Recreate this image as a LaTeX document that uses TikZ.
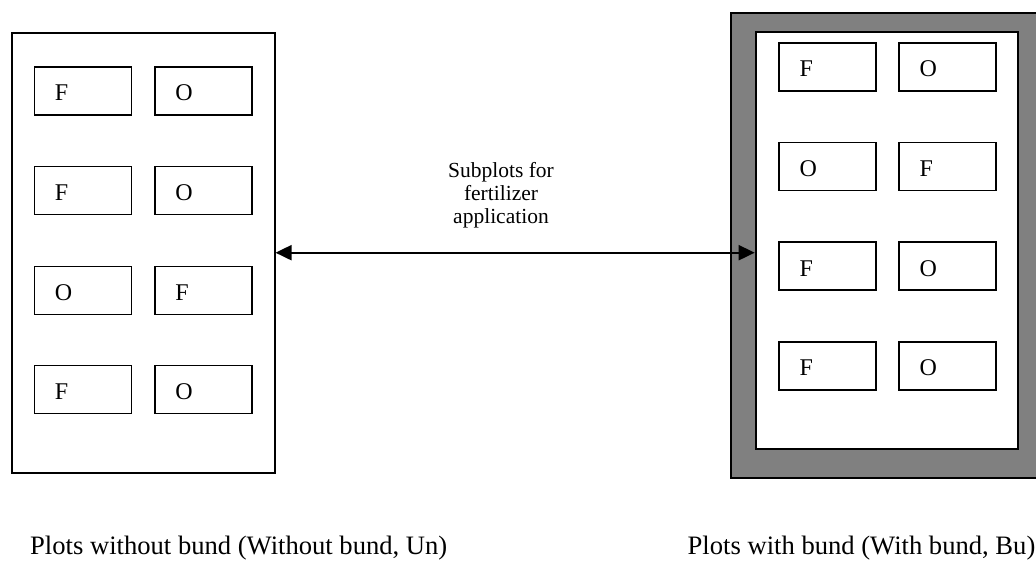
\documentclass[tikz,border=0pt]{standalone}
\usepackage{fontspec}
\setmainfont{Liberation Serif}
\usetikzlibrary{arrows.meta}
\definecolor{bundgray}{HTML}{808080}
\begin{document}
\begin{tikzpicture}[x=1pt,y=-1pt,
  plotbox/.style={draw, line width=2pt, anchor=north west, inner sep=0pt},
  subbox/.style={draw, line width=1.8pt, anchor=north west, minimum height=48pt,
    inner xsep=20.5pt, inner ysep=0pt, text width=56pt, align=left,
    text height=20pt, text depth=0pt, font=\fontsize{24}{28}\selectfont},
  arr/.style={line width=2pt, {Triangle[length=16pt,width=15pt]}-{Triangle[length=16pt,width=15pt]}},
  caption/.style={anchor=base west, inner sep=0pt, font=\fontsize{26.6}{30}\selectfont}
]
\useasboundingbox (0,0) rectangle (1036,562);
\clip (0,0) rectangle (1036,562);
\fill[white] (0,0) rectangle (1036,562);

% left plot (without bund)
\node[plotbox, minimum width=263pt, minimum height=440pt] (L) at (10.5,31.5) {};
\node[subbox] (l11) at (33.5,66)  {F};
\node[subbox] (l12) at (154,66)   {O};
\node[subbox] (l21) at (33.5,165.5) {F};
\node[subbox] (l22) at (154,165.5)  {O};
\node[subbox] (l31) at (33.5,265.5) {O};
\node[subbox] (l32) at (154,265.5)  {F};
\node[subbox] (l41) at (33.5,364.5) {F};
\node[subbox] (l42) at (154,364.5)  {O};

% right plot (with bund)
\node[plotbox, fill=bundgray, minimum width=330pt, minimum height=465pt] (RO) at (730.3,11.7) {};
\node[plotbox, fill=white, minimum width=262.5pt, minimum height=416.5pt] (RI) at (754.7,31) {};
\node[subbox] (r11) at (778.2,41.8)  {F};
\node[subbox] (r12) at (898.2,41.8)  {O};
\node[subbox] (r21) at (778.2,141.5) {O};
\node[subbox] (r22) at (898.2,141.5) {F};
\node[subbox] (r31) at (778.2,241.2) {F};
\node[subbox] (r32) at (898.2,241.2) {O};
\node[subbox] (r41) at (778.2,340.8) {F};
\node[subbox] (r42) at (898.2,340.8) {O};

% connector
\coordinate (ay) at (0,252.7);
\draw[arr] (L.east |- ay) -- (RI.west |- ay);
\node[anchor=north, inner sep=0pt, align=center, font=\fontsize{21.5}{23}\selectfont] (T) at (501,162.3)
  {Subplots for\\fertilizer\\application};

% captions
\node[caption] (CL) at (30,554.5) {Plots without bund (Without bund, Un)};
\node[caption] (CR) at (687.5,554.5) {Plots with bund (With bund, Bu)};
\end{tikzpicture}
\end{document}
